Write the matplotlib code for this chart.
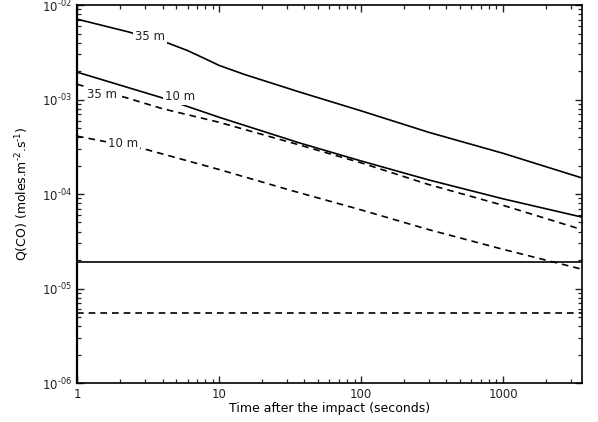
"""Q(CO) versus time after impact."""

import matplotlib
matplotlib.use("Agg")
import matplotlib.pyplot as plt
import numpy as np
from matplotlib.ticker import FixedLocator, NullFormatter

plt.rcParams["font.family"] = ["DejaVu Sans"]
plt.rcParams["mathtext.default"] = "regular"

HY = "\u2010"  # plain hyphen, mathtext turns "-" into a long minus

# time after the impact (s)
t_upper = [1, 2.3, 4.3, 6, 8, 10, 15, 37, 100, 300, 1000, 3600]
q_35m_solid = [7.1e-3, 5.2e-3, 4.0e-3, 3.3e-3, 2.7e-3, 2.3e-3, 1.85e-3, 1.2e-3,
               7.6e-4, 4.5e-4, 2.7e-4, 1.48e-4]

t_mid = [1, 2.25, 4, 10, 37, 100, 300, 1000, 3600]
q_10m_solid = [1.95e-3, 1.35e-3, 1.04e-3, 6.5e-4, 3.47e-4, 2.24e-4, 1.41e-4,
               8.9e-5, 5.7e-5]
q_35m_dashed = [1.45e-3, 1.04e-3, 8.0e-4, 5.75e-4, 3.3e-4, 2.14e-4, 1.26e-4,
                7.6e-5, 4.2e-5]

t_low = [1, 3.1, 10, 31.6, 100, 300, 1000, 3600]
q_10m_dashed = [4.1e-4, 2.95e-4, 1.82e-4, 1.1e-4, 6.8e-5, 4.2e-5, 2.6e-5,
                1.6e-5]

t_flat = [1, 3600]
q_flat_solid = [1.9e-5, 1.9e-5]
q_flat_dashed = [5.5e-6, 5.5e-6]

labels = [("35 m", 3.25, 4.6e-3), ("35 m", 1.5, 1.12e-3),
          ("10 m", 5.3, 1.07e-3), ("10 m", 2.1, 3.45e-4)]

fig = plt.figure(figsize=(5.98, 4.22), dpi=100)
ax = fig.add_axes([0.1288, 0.0924, 0.8444, 0.8956])

dash = (0, (4, 3))
ax.plot(t_upper, q_35m_solid, color="black", lw=1.2)
ax.plot(t_mid, q_10m_solid, color="black", lw=1.2)
ax.plot(t_mid, q_35m_dashed, color="black", lw=1.2, linestyle=dash)
ax.plot(t_low, q_10m_dashed, color="black", lw=1.2, linestyle=dash)
ax.plot(t_flat, q_flat_solid, color="black", lw=1.2)
ax.plot(t_flat, q_flat_dashed, color="black", lw=1.2, linestyle=dash)

for text, x, y in labels:
    ax.text(x, y, text, fontsize=8.5, ha="center", va="center", zorder=5,
            color="#222222",
            bbox=dict(facecolor="white", edgecolor="none", pad=1.5))

ax.set_xscale("log")
ax.set_yscale("log")
ax.set_xlim(1, 3600)
ax.set_ylim(1e-6, 1e-2)

ax.xaxis.set_major_locator(FixedLocator([1, 10, 100, 1000]))
ax.set_xticklabels(["1", "10", "100", "1000"])
xminor = [m * 10.0 ** e for e in range(0, 4) for m in range(2, 10)]
ax.xaxis.set_minor_locator(FixedLocator([v for v in xminor if v < 3600]))
ax.xaxis.set_minor_formatter(NullFormatter())

yt = [1e-6, 1e-5, 1e-4, 1e-3, 1e-2]
ax.yaxis.set_major_locator(FixedLocator(yt))
ax.set_yticklabels([rf"$10^{{{HY}0{k}}}$" for k in (6, 5, 4, 3, 2)])
yminor = [m * 10.0 ** e for e in range(-6, -2) for m in range(2, 10)]
ax.yaxis.set_minor_locator(FixedLocator(yminor))
ax.yaxis.set_minor_formatter(NullFormatter())

ax.tick_params(which="both", direction="in", top=True, right=True,
               labelsize=8.5, colors="#222222")
ax.tick_params(which="major", length=5, width=1)
ax.tick_params(which="minor", length=3, width=0.9)
for s in ax.spines.values():
    s.set_linewidth(1.2)
ax.spines["left"].set_linewidth(1.6)

ax.set_xlabel("Time after the impact (seconds)", fontsize=9, labelpad=1)
ax.set_ylabel(rf"Q(CO) (moles.m$^{{{HY}2}}$.s$^{{{HY}1}}$)", fontsize=9,
              labelpad=8)

fig.savefig("out.png", dpi=100)
